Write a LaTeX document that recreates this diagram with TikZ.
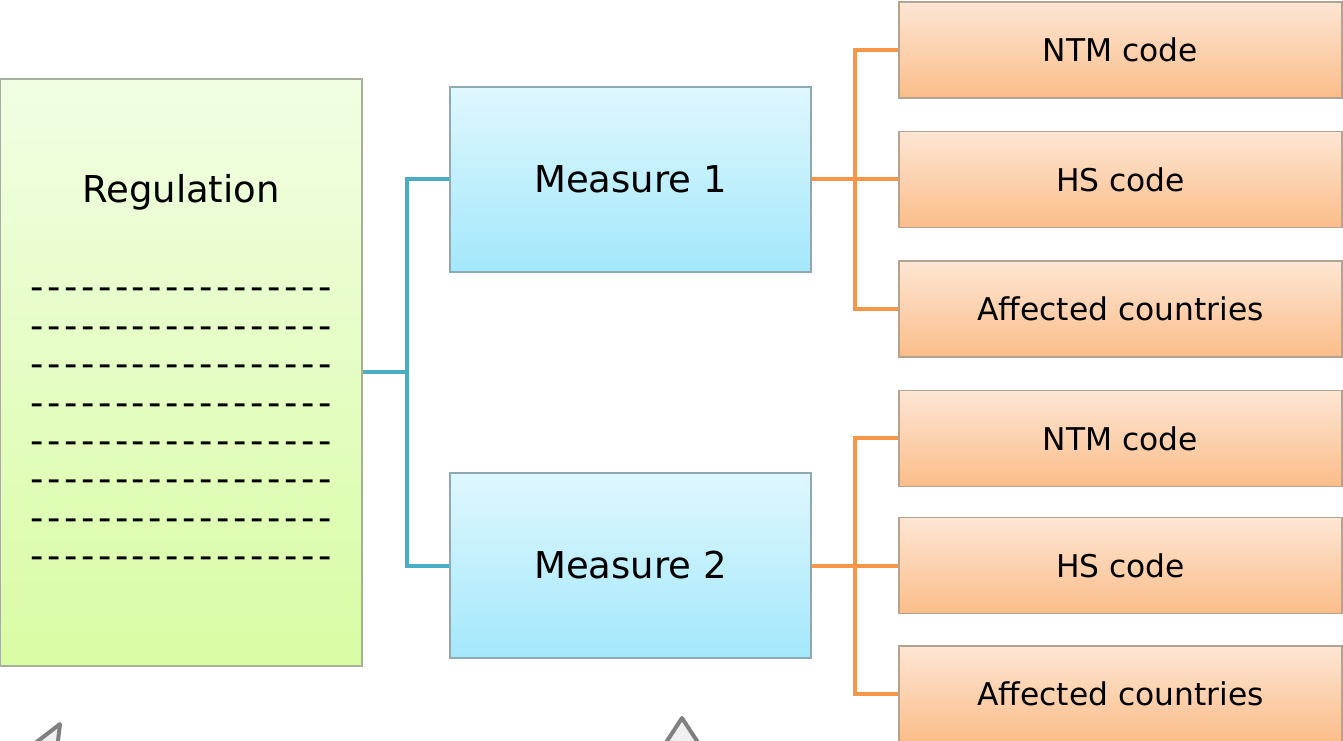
\documentclass[tikz,border=0pt]{standalone}
\usepackage{fontspec}
\setmainfont{DejaVu Sans}
\usetikzlibrary{calc}
\definecolor{regtop}{HTML}{F1FEE3}
\definecolor{regbot}{HTML}{D9FCA4}
\definecolor{regrim}{HTML}{A7AE9C}
\definecolor{meatop}{HTML}{DFF7FE}
\definecolor{meabot}{HTML}{A3E8FB}
\definecolor{mearim}{HTML}{8DA9B3}
\definecolor{attop}{HTML}{FDE6D4}
\definecolor{atbot}{HTML}{FBBD89}
\definecolor{atrim}{HTML}{B3A393}
\definecolor{linkblue}{HTML}{4BACC6}
\definecolor{linkorange}{HTML}{F79646}
\newcommand{\dashes}{\foreach \k in {1,...,18}{-\kern2.7pt}}

\begin{document}
\begin{tikzpicture}[x=.75pt, y=-.75pt]
      \tikzstyle{every node}=[font=\fontsize{27.75}{33}\selectfont]
      \tikzstyle{regbox}=[draw=regrim, line width=1.1pt, top color=regtop, bottom color=regbot, minimum width=271pt, minimum height=440.25pt, inner sep=0pt]
      \tikzstyle{measurebox}=[draw=mearim, line width=1.1pt, top color=meatop, bottom color=meabot, minimum width=270.75pt, minimum height=138.75pt, inner sep=0pt]
      \tikzstyle{attrbox}=[draw=atrim, line width=1.1pt, top color=attop, bottom color=atbot, minimum width=332.25pt, minimum height=72pt, inner sep=0pt, font=\fontsize{23.5}{28}\selectfont]
      \tikzstyle{dashrow}=[anchor=base west, inner sep=0pt]
      \tikzstyle{blueline}=[draw=linkblue, line width=3pt]
      \tikzstyle{orangeline}=[draw=linkorange, line width=3pt]
      \tikzstyle{cutarrow}=[draw=black!50, fill=black!6, line width=3pt, line join=round]

      \useasboundingbox (0,0) rectangle (1343,741);
      \clip (0,0) rectangle (1343,741);

%%
  \node (reg) at (181.35,372.5) [regbox] {};
  \node (regtitle) at (181,203) [anchor=base] {Regulation};
  \foreach \i in {0,...,7}
    \node (dash\i) at (30,{300+38.4*\i}) [dashrow] {\dashes};

  \node (m1) at (630.5,179.5) [measurebox] {Measure 1};
  \node (m2) at (630.5,565.5) [measurebox] {Measure 2};

  \node (a1) at (1120.5,50) [attrbox] {NTM code};
  \node (b1) at (1120.5,179.5) [attrbox] {HS code};
  \node (c1) at (1120.5,309) [attrbox] {Affected countries};
  \node (a2) at (1120.5,438.5) [attrbox] {NTM code};
  \node (b2) at (1120.5,565.5) [attrbox] {HS code};
  \node (c2) at (1120.5,694) [attrbox] {Affected countries};

  \draw [blueline] (reg.east) -- ++(44,0) coordinate (regj);
  \draw [blueline] (m1.west) -| (regj) |- (m2.west);

  \draw [orangeline] (m1.east) -- (b1.west);
  \draw [orangeline] (a1.west) -| ($(m1.east)!.5!(b1.west)$) |- (c1.west);
  \draw [orangeline] (m2.east) -- (b2.west);
  \draw [orangeline] (a2.west) -| ($(m2.east)!.5!(b2.west)$) |- (c2.west);
%
  \draw [cutarrow] (60,724) -- (16,758) -- (56,758) -- cycle;
  \draw [cutarrow] (682,718) -- (652,764) -- (712,764) -- cycle;

    \end{tikzpicture}
\end{document}
